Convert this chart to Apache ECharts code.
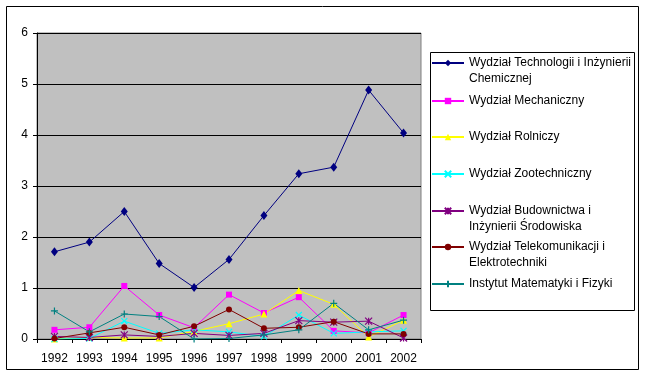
<!DOCTYPE html>
<html>
<head>
<meta charset="utf-8">
<script src="https://cdn.jsdelivr.net/npm/echarts@6/dist/echarts.min.js"></script>
<style>
  html, body { margin: 0; padding: 0; background: #fff; }
  #chart { width: 646px; height: 376px; }
</style>
</head>
<body>
<div id="chart"></div>
<script>
// values
const years = ['1992', '1993', '1994', '1995', '1996', '1997', '1998', '1999', '2000', '2001', '2002']
const yTicks = [0, 1, 2, 3, 4, 5, 6]

const chemical = [1.71, 1.90, 2.50, 1.48, 1.01, 1.56, 2.42, 3.24, 3.37, 4.88, 4.04]
const mechanical = [0.18, 0.23, 1.04, 0.47, 0.22, 0.87, 0.51, 0.82, 0.16, 0.12, 0.47]
const agricultural = [0.00, 0.03, 0.02, 0.02, 0.15, 0.30, 0.49, 0.95, 0.68, 0.04, 0.37]
const zootechnical = [0.00, 0.01, 0.35, 0.11, 0.18, 0.14, 0.05, 0.47, 0.11, 0.14, 0.16]
const civil = [0.05, 0.03, 0.08, 0.05, 0.11, 0.07, 0.11, 0.36, 0.33, 0.35, 0.02]
const telecom = [0.01, 0.12, 0.23, 0.08, 0.25, 0.58, 0.21, 0.23, 0.34, 0.10, 0.10]
const mathPhys = [0.55, 0.14, 0.49, 0.44, 0.00, 0.01, 0.08, 0.18, 0.70, 0.18, 0.37]

const names = [
  'Wydział Technologii i Inżynierii\nChemicznej',
  'Wydział Mechaniczny',
  'Wydział Rolniczy',
  'Wydział Zootechniczny',
  'Wydział Budownictwa i\nInżynierii Środowiska',
  'Wydział Telekomunikacji i\nElektrotechniki',
  'Instytut Matematyki i Fizyki'
]
const values = [chemical, mechanical, agricultural, zootechnical, civil, telecom, mathPhys]
const colors = ['#000080', '#ff00ff', '#ffff00', '#00ffff', '#800080', '#800000', '#008080']

const xPath = 'path://M0,0L10,10M10,0L0,10'
const starPath = 'path://M0,0L10,10M10,0L0,10M5,0L5,10'
const plusPath = 'path://M5,0L5,10M0,5L10,5'
const symbols = ['diamond', 'rect', 'triangle', xPath, starPath, 'circle', plusPath]
const sizes = [[7, 9], 6, 7, 6, 7, 6, 7]

// legend rows (symbol centre y)
const rowY = [63, 101, 137, 174, 211, 247, 284]
const itemH = 8
const lineH = 16

const font = 'Liberation Sans, Arial, sans-serif'

const chart = echarts.init(document.getElementById('chart'), null, { renderer: 'canvas' })

// one legend per entry so each row sits where it does in the original;
// two-line names get a blank first line so the marker lines up with line one
const legends = names.map((name, i) => {
  const twoLines = name.indexOf('\n') >= 0
  return {
    data: [name],
    left: 431,
    top: twoLines ? rowY[i] - 24 : rowY[i] - 8,
    orient: 'vertical',
    padding: 0,
    itemWidth: 32,
    itemHeight: itemH,
    selectedMode: false,
    formatter: n => (twoLines ? '\n' + n : n),
    textStyle: {
      fontFamily: font,
      fontSize: 12,
      color: '#000',
      lineHeight: lineH
    }
  }
})

chart.setOption({
  backgroundColor: '#fff',
  animation: false,
  graphic: [
    { type: 'rect', shape: { x: 6.5, y: 6.5, width: 632, height: 363 }, style: { fill: 'none', stroke: '#000', lineWidth: 1 }, silent: true },
    { type: 'rect', shape: { x: 430.5, y: 52.5, width: 204, height: 258 }, style: { fill: '#fff', stroke: '#000', lineWidth: 1 }, silent: true, z: -1 }
  ],
  legend: legends,
  grid: {
    left: 37,
    right: 225,
    top: 33,
    bottom: 37,
    show: true,
    backgroundColor: '#c0c0c0',
    borderColor: '#808080',
    borderWidth: 1
  },
  xAxis: {
    type: 'category',
    data: years,
    boundaryGap: true,
    axisLine: { lineStyle: { color: '#000', width: 1 } },
    axisTick: { show: true, inside: false, length: 4, lineStyle: { color: '#000' } },
    axisLabel: { color: '#000', fontFamily: font, fontSize: 12, margin: 14 }
  },
  yAxis: {
    type: 'value',
    min: yTicks[0],
    max: yTicks[yTicks.length - 1],
    interval: 1,
    axisLine: { show: true, lineStyle: { color: '#000', width: 1 } },
    axisTick: { show: true, inside: false, length: 4, lineStyle: { color: '#000' } },
    axisLabel: { color: '#000', fontFamily: font, fontSize: 12, margin: 9 },
    splitLine: { show: true, lineStyle: { color: '#000', width: 1 } }
  },
  series: names.map((name, i) => ({
    name: name,
    type: 'line',
    data: values[i],
    symbol: symbols[i],
    symbolSize: sizes[i],
    showAllSymbol: true,
    lineStyle: { color: colors[i], width: 1 },
    itemStyle: { color: colors[i], borderColor: colors[i], borderWidth: i === 3 || i === 4 || i === 6 ? 1.2 : 0 },
    emphasis: { disabled: true }
  }))
})
</script>
</body>
</html>
